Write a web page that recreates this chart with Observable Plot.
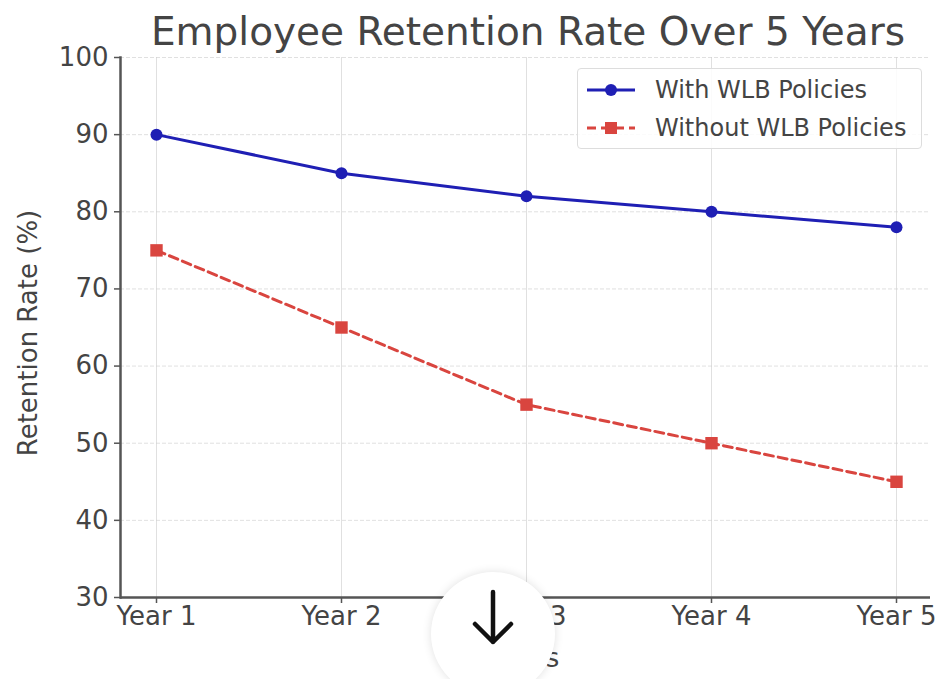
<!DOCTYPE html>
<html><head><meta charset="utf-8">
<script src="https://cdn.jsdelivr.net/npm/d3@7"></script>
<script src="https://cdn.jsdelivr.net/npm/@observablehq/plot@0.6"></script>
<style>
html,body{margin:0;padding:0;background:#fff;}
#wrap{position:relative;width:946px;height:679px;font-family:"DejaVu Sans",sans-serif;color:#444;overflow:hidden;}
#title{position:absolute;left:0;top:10px;width:1056px;text-align:center;font-size:39px;line-height:44px;color:#444;}
#chart{position:absolute;left:0;top:30px;}
#legend{position:absolute;left:577px;top:68px;width:345px;height:81px;border:1px solid #ddd;border-radius:4px;background:rgba(255,255,255,0.85);box-sizing:border-box;font-size:24px;color:#444;}
.lrow{position:absolute;left:7px;display:flex;align-items:center;white-space:nowrap;}
.lrow svg{margin-right:18px;}
#ylab{position:absolute;left:28px;top:333px;transform:translate(-50%,-50%) rotate(-90deg);font-size:26px;white-space:nowrap;}
#xlab{position:absolute;left:525px;top:658px;transform:translate(-50%,-50%);font-size:26px;}
#btn{position:absolute;left:431px;top:572px;width:124px;height:124px;border-radius:50%;background:#fff;box-shadow:0 0 10px rgba(0,0,0,0.12);}
#btn svg{position:absolute;left:32px;top:12px;}
</style></head>
<body><div id="wrap">
<div id="title">Employee Retention Rate Over 5 Years</div>
<div id="chart"></div>
<div id="ylab">Retention Rate (%)</div>
<div id="xlab">Years</div>
<div id="legend">
 <div class="lrow" style="top:7px"><svg width="52" height="26"><line x1="2" y1="13" x2="50" y2="13" stroke="#1f1fb4" stroke-width="3"/><circle cx="26" cy="13" r="6" fill="#1f1fb4"/></svg><span>With WLB Policies</span></div>
 <div class="lrow" style="top:45px"><svg width="52" height="26"><line x1="2" y1="13" x2="50" y2="13" stroke="#d9453f" stroke-width="3" stroke-dasharray="9,5"/><rect x="20" y="7" width="12" height="12" fill="#d9453f"/></svg><span>Without WLB Policies</span></div>
</div>
<div id="btn"><svg width="60" height="70" viewBox="0 0 60 70"><path d="M30 8 V58 M12 40 L30 58 L48 40" stroke="#111" stroke-width="4.5" fill="none" stroke-linecap="round" stroke-linejoin="round"/></svg></div>
</div>
<script>
const years = ["Year 1","Year 2","Year 3","Year 4","Year 5"];
const withWLB = [90, 85, 82, 80, 78];
const withoutWLB = [75, 65, 55, 50, 45];
const yTicks = [30,40,50,60,70,80,90,100];

const dWith = years.map((y,i)=>({year:y, v:withWLB[i]}));
const dWithout = years.map((y,i)=>({year:y, v:withoutWLB[i]}));

const chart = Plot.plot({
  width: 946, height: 649,
  marginLeft: 120, marginRight: 16, marginTop: 27, marginBottom: 82,
  style: {fontFamily: "DejaVu Sans, sans-serif", fontSize: "26px", color: "#444", background: "transparent", overflow: "visible"},
  x: {type: "point", domain: years, padding: 0, insetLeft: 35, insetRight: 33, label: null},
  y: {domain: [30, 100], ticks: yTicks, label: null},
  marks: [
    Plot.gridX(years, {stroke: "#ccc", strokeOpacity: 0.6, strokeWidth: 1}),
    Plot.gridY(yTicks, {stroke: "#ccc", strokeOpacity: 0.6, strokeWidth: 1, strokeDasharray: "4,2"}),
    Plot.axisX(years, {tickSize: 6, tickPadding: 3, stroke: "#555", strokeWidth: 1.5, fontSize: 26, fill: "#444"}),
    Plot.axisY(yTicks, {tickSize: 6, tickPadding: 6, stroke: "#555", strokeWidth: 1.5, fontSize: 26, fill: "#444"}),
    Plot.frame({anchor: "left", stroke: "#555", strokeWidth: 2.5}),
    Plot.ruleY([30], {stroke: "#555", strokeWidth: 2.5}),
    Plot.line(dWith, {x: "year", y: "v", stroke: "#1f1fb4", strokeWidth: 3}),
    Plot.dot(dWith, {x: "year", y: "v", r: 6, fill: "#1f1fb4", stroke: "none"}),
    Plot.line(dWithout, {x: "year", y: "v", stroke: "#d9453f", strokeWidth: 3, strokeDasharray: "9,5"}),
    Plot.dot(dWithout, {x: "year", y: "v", symbol: "square", r: 7, fill: "#d9453f", stroke: "none"})
  ]
});
document.getElementById("chart").appendChild(chart);
</script>
</body></html>
